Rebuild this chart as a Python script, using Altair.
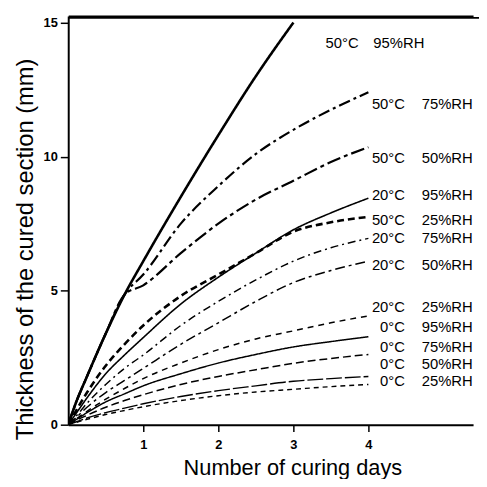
import altair as alt
import pandas as pd

# ---- data ----
days = [0, 0.1, 0.25, 0.5, 0.75, 1, 1.5, 2, 2.5, 3, 3.5, 4]
t50_rh95 = [0, 0.8, 1.8, 3.4, 4.85, 6.1, 8.5, 10.8, 13.0, 15.0]
t50_rh75 = [0, 0.8, 1.8, 3.4, 4.85, 5.6, 7.5, 8.9, 10.1, 11.0, 11.75, 12.4]
t50_rh50 = [0, 0.8, 1.8, 3.4, 4.85, 5.2, 6.4, 7.5, 8.4, 9.1, 9.8, 10.35]
t50_rh25 = [0, 0.5, 1.2, 2.2, 3.0, 3.7, 4.8, 5.6, 6.4, 7.2, 7.55, 7.75]
t20_rh95 = [0, 0.4, 1.0, 1.9, 2.6, 3.25, 4.5, 5.5, 6.4, 7.27, 7.9, 8.45]
t20_rh75 = [0, 0.3, 0.8, 1.5, 2.1, 2.6, 3.7, 4.6, 5.4, 6.1, 6.6, 6.95]
t20_rh50 = [0, 0.25, 0.65, 1.2, 1.65, 2.1, 3.0, 3.8, 4.6, 5.3, 5.75, 6.1]
t20_rh25 = [0, 0.2, 0.5, 0.95, 1.35, 1.72, 2.3, 2.8, 3.2, 3.5, 3.8, 4.06]
t0_rh95 = [0, 0.18, 0.45, 0.85, 1.15, 1.45, 1.9, 2.3, 2.62, 2.9, 3.1, 3.28]
t0_rh75 = [0, 0.15, 0.35, 0.65, 0.9, 1.12, 1.5, 1.8, 2.05, 2.29, 2.47, 2.62]
t0_rh50 = [0, 0.1, 0.25, 0.45, 0.62, 0.78, 1.05, 1.27, 1.45, 1.62, 1.72, 1.8]
t0_rh25 = [0, 0.08, 0.2, 0.38, 0.53, 0.67, 0.9, 1.08, 1.22, 1.32, 1.42, 1.5]

series_names = ["50/95", "50/75", "50/50", "50/25", "20/95", "20/75",
                "20/50", "20/25", "0/95", "0/75", "0/50", "0/25"]
series_values = [t50_rh95, t50_rh75, t50_rh50, t50_rh25, t20_rh95, t20_rh75,
                 t20_rh50, t20_rh25, t0_rh95, t0_rh75, t0_rh50, t0_rh25]

temp_labels = ["50°C", "50°C", "50°C", "20°C", "50°C", "20°C",
               "20°C", "20°C", "0°C", "0°C", "0°C", "0°C"]
rh_labels = ["95%RH", "75%RH", "50%RH", "95%RH", "25%RH", "75%RH",
             "50%RH", "25%RH", "95%RH", "75%RH", "50%RH", "25%RH"]
label_y = [14.25, 11.97, 9.94, 8.55, 7.62, 6.96, 5.97, 4.38, 3.65, 2.91, 2.28, 1.62]
temp_label_x = [3.87] + [4.487] * 11
rh_label_x = [4.066] + [4.71] * 11

y_ticks = [0, 5, 10, 15]
x_ticks = [1, 2, 3, 4]

# ---- styles ----
styles = {
    "50/95": ([1, 0], 2.6),
    "50/75": ([12, 4, 3, 4], 2.2),
    "50/50": ([14, 4, 4, 4], 2.2),
    "50/25": ([7, 4], 2.6),
    "20/95": ([1, 0], 1.6),
    "20/75": ([8, 4, 2, 4], 1.5),
    "20/50": ([10, 4, 3, 4], 1.5),
    "20/25": ([6, 5], 1.5),
    "0/95": ([1, 0], 1.5),
    "0/75": ([8, 4], 1.5),
    "0/50": ([16, 3], 1.4),
    "0/25": ([5, 4], 1.4),
}

rows = []
for name, vals in zip(series_names, series_values):
    for d, v in zip(days, vals):
        rows.append({"series": name, "day": d, "thickness": v})
df = pd.DataFrame(rows)

labels_df = pd.DataFrame({
    "temp": temp_labels, "rh": rh_labels, "y": label_y,
    "tx": temp_label_x, "rx": rh_label_x,
})

W, H = 410, 414
X_MAX = 5.395
Y_MAX = 15.25
xscale = alt.Scale(domain=[0, X_MAX], nice=False, zero=True)
yscale = alt.Scale(domain=[0, Y_MAX], nice=False, zero=True)

X_TITLE = "Number of curing days"
Y_TITLE = "Thickness of the cured section (mm)"

x_axis = alt.Axis(values=x_ticks, title=X_TITLE, grid=False,
                  tickSize=7, tickWidth=1.5, domainWidth=2, labelPadding=7,
                  labelFont="Liberation Sans", labelFontWeight="bold",
                  labelFontSize=13, titleFont="Liberation Sans", titleFontSize=22,
                  titleFontWeight="normal", titlePadding=6, titleX=227,
                  titleAlign="center")
y_axis = alt.Axis(values=y_ticks, title=Y_TITLE,
                  grid=False, tickSize=8, tickWidth=1.5, domainWidth=2,
                  labelPadding=3, labelFont="Liberation Sans",
                  labelFontWeight="bold", labelFontSize=13,
                  titleFont="Liberation Sans", titleFontSize=24,
                  titleFontWeight="normal", titleX=-43, titleY=236,
                  titleAlign="center", titleBaseline="middle")
top_axis = alt.Axis(orient="top", labels=False, ticks=False, title=None,
                    grid=False, domain=True, domainWidth=2, domainColor="black")


def X(field):
    return alt.X(field, type="quantitative", scale=xscale, axis=x_axis, title=X_TITLE)


def Y(field):
    return alt.Y(field, type="quantitative", scale=yscale, axis=y_axis, title=Y_TITLE)


base = alt.Chart(df)
layers = []
for name in series_names:
    dash, width = styles[name]
    layer = base.transform_filter(alt.datum.series == name).mark_line(
        color="black", strokeDash=dash, strokeWidth=width,
        interpolate="monotone", strokeCap="butt", clip=True,
    ).encode(x=X("day"), y=Y("thickness"))
    layers.append(layer)

temp_text = alt.Chart(labels_df).mark_text(
    align="right", baseline="middle", font="Liberation Sans",
    fontSize=15, color="black").encode(
    x=X("tx"), y=Y("y"), text="temp:N")

rh_text = alt.Chart(labels_df).mark_text(
    align="left", baseline="middle", font="Liberation Sans",
    fontSize=15, color="black").encode(
    x=X("rx"), y=Y("y"), text="rh:N")

# top border of the plot box, drawn just inside the view
top_rule = alt.Chart(pd.DataFrame({"k": [1]})).mark_rule(
    color="black", strokeWidth=2).encode(
    x=alt.value(0), x2=alt.value(W + 6), y=alt.value(2))

inner = alt.layer(*layers, temp_text, rh_text, top_rule)

# invisible layer that only carries a top axis line
frame_df = pd.DataFrame({"fx": [0, X_MAX], "fy": [0, Y_MAX]})
top_layer = alt.Chart(frame_df).mark_point(opacity=0).encode(
    x=alt.X("fx", type="quantitative", scale=xscale, axis=top_axis),
    y=Y("fy"))

chart = alt.layer(inner, top_layer).resolve_axis(x="independent").properties(
    width=W, height=H,
    autosize=alt.AutoSizeParams(type="none"),
    padding={"left": 61, "top": 5, "right": 6, "bottom": 52},
    background="white",
).configure_view(stroke=None).configure_axis(
    domainColor="black", tickColor="black", labelColor="black", titleColor="black"
)

chart.save("out.html", embed_options={"renderer": "svg", "actions": False})
